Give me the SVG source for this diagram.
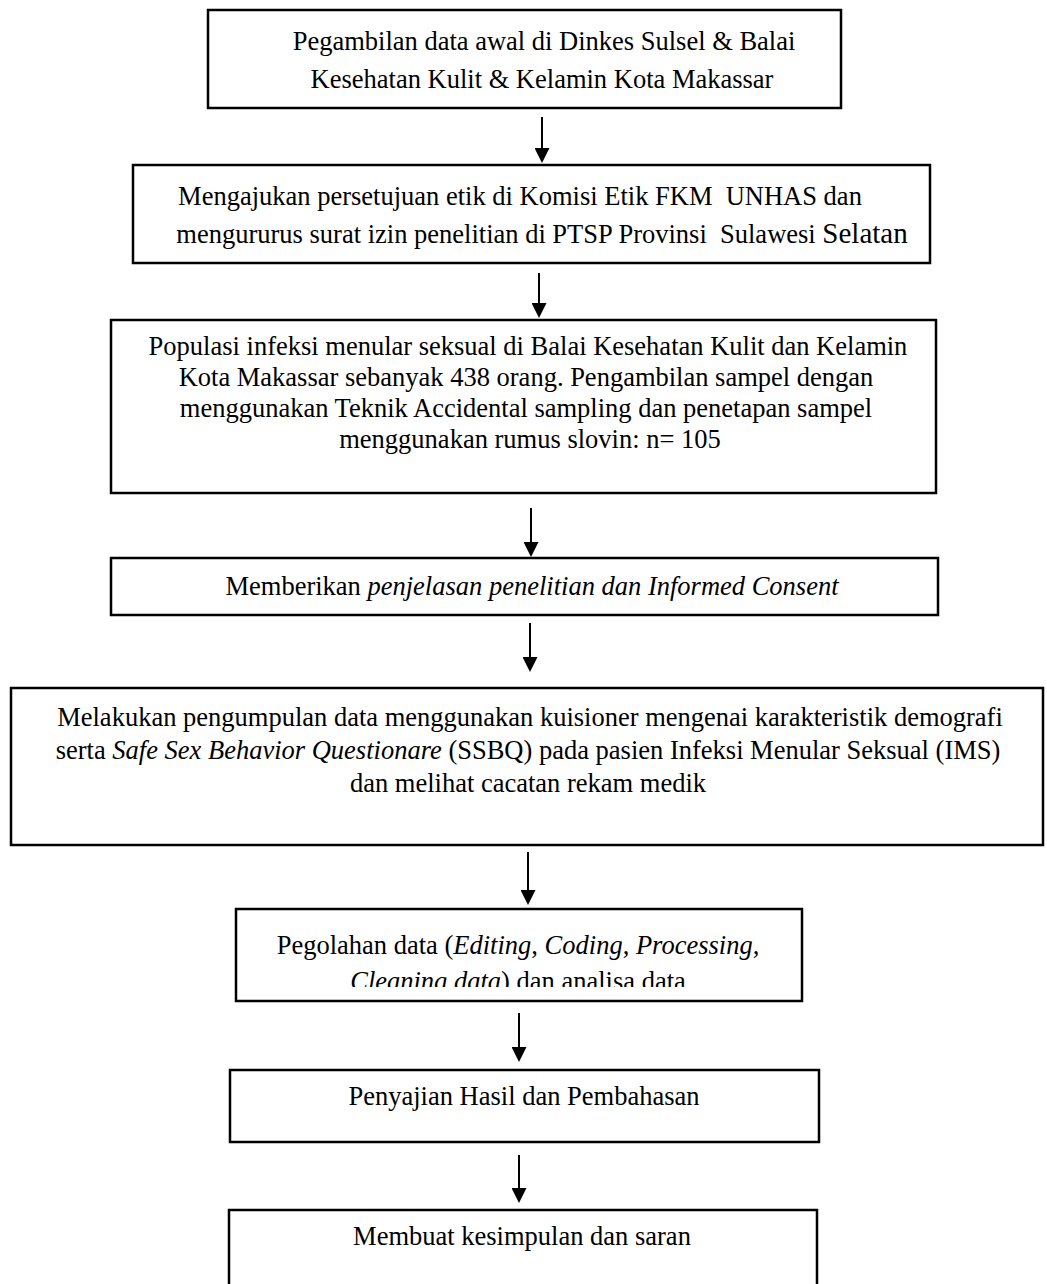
<svg xmlns="http://www.w3.org/2000/svg" width="1047" height="1284" viewBox="0 0 1047 1284">
<defs>
<marker id="ah" viewBox="0 0 15 15" refX="12" refY="7.5" markerWidth="15" markerHeight="15" markerUnits="userSpaceOnUse" orient="auto">
<path d="M0,0 L15,7.5 L0,15 Z" fill="#000"/>
</marker>
<clipPath id="clip6"><rect x="236" y="909" width="566" height="78"/></clipPath>
</defs>
<style>
.box{fill:#fff;stroke:#000;stroke-width:2.5}
.t{font-family:"Liberation Serif","Times New Roman",serif;font-size:26.5px;fill:#000;text-anchor:middle}
.pre{white-space:pre}
.i{font-style:italic}
.conn line{stroke:#000;stroke-width:2;marker-end:url(#ah)}
</style>
<rect width="1047" height="1284" fill="#fff"/>
<g class="conn" id="connectors">
<line x1="542" y1="117" x2="542" y2="160"/>
<line x1="539" y1="273" x2="539" y2="315"/>
<line x1="531" y1="508" x2="531" y2="554"/>
<line x1="530" y1="623" x2="530" y2="669"/>
<line x1="528" y1="852" x2="528" y2="902"/>
<line x1="519" y1="1013" x2="519" y2="1059"/>
<line x1="519" y1="1155" x2="519" y2="1200"/>
</g>
<g id="n1">
<rect class="box" x="208" y="10" width="633" height="98"/>
<text class="t" x="544" y="50">Pegambilan data awal di Dinkes Sulsel &amp; Balai</text>
<text class="t" x="542" y="88">Kesehatan Kulit &amp; Kelamin Kota Makassar</text>
</g>
<g id="n2">
<rect class="box" x="133" y="165" width="797" height="98"/>
<text class="t pre" x="520" y="205">Mengajukan persetujuan etik di Komisi Etik FKM  UNHAS dan</text>
<text class="t pre" x="542" y="243">mengururus surat izin penelitian di PTSP Provinsi  Sulawesi <tspan style="font-size:29px">Selatan</tspan></text>
</g>
<g id="n3">
<rect class="box" x="111" y="320" width="825" height="173"/>
<text class="t" x="528" y="355">Populasi infeksi menular seksual di Balai Kesehatan Kulit dan Kelamin</text>
<text class="t" x="526" y="386">Kota Makassar sebanyak 438 orang. Pengambilan sampel dengan</text>
<text class="t" x="526" y="417">menggunakan Teknik Accidental sampling dan penetapan sampel</text>
<text class="t" x="530" y="448">menggunakan rumus slovin: n= 105</text>
</g>
<g id="n4">
<rect class="box" x="111" y="558" width="827" height="57"/>
<text class="t" x="532" y="595">Memberikan <tspan class="i">penjelasan penelitian dan Informed Consent</tspan></text>
</g>
<g id="n5">
<rect class="box" x="11" y="688" width="1032" height="157"/>
<text class="t" x="530" y="726">Melakukan pengumpulan data menggunakan kuisioner mengenai karakteristik demografi</text>
<text class="t" x="528" y="759">serta <tspan class="i">Safe Sex Behavior Questionare</tspan> (SSBQ) pada pasien Infeksi Menular Seksual (IMS)</text>
<text class="t" x="528" y="792">dan melihat cacatan rekam medik</text>
</g>
<g id="n6">
<rect class="box" x="236" y="909" width="566" height="92"/>
<text class="t" x="518" y="954">Pegolahan data (<tspan class="i">Editing</tspan>, <tspan class="i">Coding</tspan>, <tspan class="i">Processing</tspan>,</text>
<text class="t" x="518" y="990" clip-path="url(#clip6)"><tspan class="i">Cleaning data</tspan>) dan analisa data</text>
</g>
<g id="n7">
<rect class="box" x="230" y="1070" width="589" height="72"/>
<text class="t" x="524" y="1105">Penyajian Hasil dan Pembahasan</text>
</g>
<g id="n8">
<rect class="box" x="229" y="1210" width="588" height="90"/>
<text class="t" x="522" y="1245">Membuat kesimpulan dan saran</text>
</g>
</svg>
